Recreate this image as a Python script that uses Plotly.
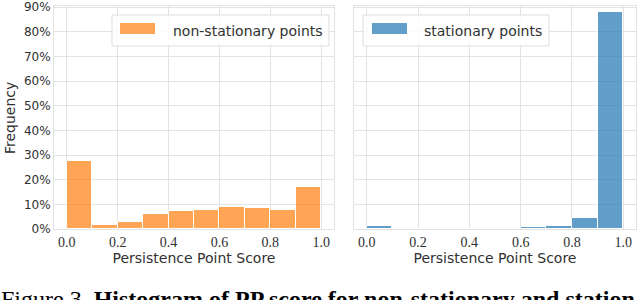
import plotly.graph_objects as go

# ---- data ----
bin_edges = [0.0, 0.1, 0.2, 0.3, 0.4, 0.5, 0.6, 0.7, 0.8, 0.9, 1.0]
nonstationary_freq = [0.274, 0.016, 0.030, 0.059, 0.073, 0.079, 0.091, 0.087, 0.079, 0.171]
stationary_freq = [0.012, 0.0, 0.0, 0.0, 0.0, 0.003, 0.007, 0.014, 0.046, 0.880]
x_ticks = [0.0, 0.2, 0.4, 0.6, 0.8, 1.0]
y_ticks = [0.0, 0.1, 0.2, 0.3, 0.4, 0.5, 0.6, 0.7, 0.8, 0.9]
series_names = ["non-stationary points", "stationary points"]
y_title = "Frequency"
x_title = "Persistence Point Score"
caption = "Figure 3. <b>Histogram of PP score for non-stationary and station</b>"

centers = [(a + b) / 2 for a, b in zip(bin_edges[:-1], bin_edges[1:])]
widths = [b - a for a, b in zip(bin_edges[:-1], bin_edges[1:])]

ORANGE = "#ff7f0e"
BLUE = "#1f77b4"
GRID = "#e3e3e3"
TXT = "#303030"

W, H = 640, 300
ML, MR, MT, MB = 54, 4, 6, 71
PW = W - ML - MR
PH = H - MT - MB


def px(X):
    return (X - ML) / PW


def py(Y):
    return (H - MB - Y) / PH


fig = go.Figure()
fig.add_trace(go.Bar(x=centers, y=nonstationary_freq, width=widths,
                     marker=dict(color=ORANGE, opacity=0.7, line=dict(color="white", width=1)),
                     name=series_names[0], showlegend=False, xaxis="x", yaxis="y"))
fig.add_trace(go.Bar(x=centers, y=stationary_freq, width=widths,
                     marker=dict(color=BLUE, opacity=0.7, line=dict(color="white", width=1)),
                     name=series_names[1], showlegend=False, xaxis="x2", yaxis="y2"))

axis_common = dict(showgrid=True, gridcolor=GRID, gridwidth=1, zeroline=False,
                   showline=True, linecolor=GRID, linewidth=1, mirror=True, ticks="",
                   automargin=False)

xfont = dict(family="Liberation Serif", size=14, color=TXT)
yfont = dict(family="DejaVu Sans", size=12, color=TXT)
tfont = dict(family="DejaVu Sans", size=14, color=TXT)

fig.update_layout(
    width=W, height=H,
    margin=dict(l=ML, r=MR, t=MT, b=MB),
    paper_bgcolor="white", plot_bgcolor="white",
    bargap=0,
    xaxis=dict(domain=[0, px(334)], range=[-0.05, 1.05], tickvals=x_ticks, tickformat=".1f",
               tickfont=xfont, title=dict(text=x_title, font=tfont, standoff=0),
               **axis_common),
    xaxis2=dict(domain=[px(354), 1], range=[-0.05, 1.05], tickvals=x_ticks, tickformat=".1f",
                tickfont=xfont, title=dict(text=x_title, font=tfont, standoff=0),
                anchor="y2", **axis_common),
    yaxis=dict(range=[0, 0.905], tickvals=y_ticks, tickformat=".0%", tickfont=yfont,
               **axis_common),
    yaxis2=dict(range=[0, 0.905], tickvals=y_ticks, showticklabels=False, anchor="x2",
                **axis_common),
)

# ---- legends drawn as boxes ----
shapes = []
annotations = []
legends = [
    (112, 329, 120, 155, 171, series_names[0], ORANGE),
    (363, 549, 372, 407, 422, series_names[1], BLUE),
]
for bx0, bx1, sx0, sx1, tx, name, col in legends:
    shapes.append(dict(type="rect", xref="paper", yref="paper",
                       x0=px(bx0), x1=px(bx1), y0=py(46), y1=py(15),
                       line=dict(color="#dddddd", width=1), fillcolor="rgba(255,255,255,0.8)"))
    shapes.append(dict(type="rect", xref="paper", yref="paper",
                       x0=px(sx0), x1=px(sx1), y0=py(34), y1=py(23),
                       line=dict(width=0), fillcolor=col, opacity=0.7))
    annotations.append(dict(text=name, xref="paper", yref="paper", x=px(tx), y=py(31),
                            xanchor="left", yanchor="middle", showarrow=False,
                            font=dict(family="DejaVu Sans", size=14, color=TXT)))

annotations.append(dict(text=y_title, xref="paper", yref="paper", x=px(10), y=py(118),
                        xanchor="center", yanchor="middle", textangle=-90, showarrow=False,
                        font=tfont))

annotations.append(dict(text=caption, xref="paper", yref="paper", x=px(-1), y=py(284),
                        xanchor="left", yanchor="top", showarrow=False,
                        font=dict(family="Liberation Serif", size=24, color="black")))

fig.update_layout(shapes=shapes, annotations=annotations)

fig.write_html("out.html", config={"displayModeBar": False},
               post_script="document.body.style.margin='0';")
